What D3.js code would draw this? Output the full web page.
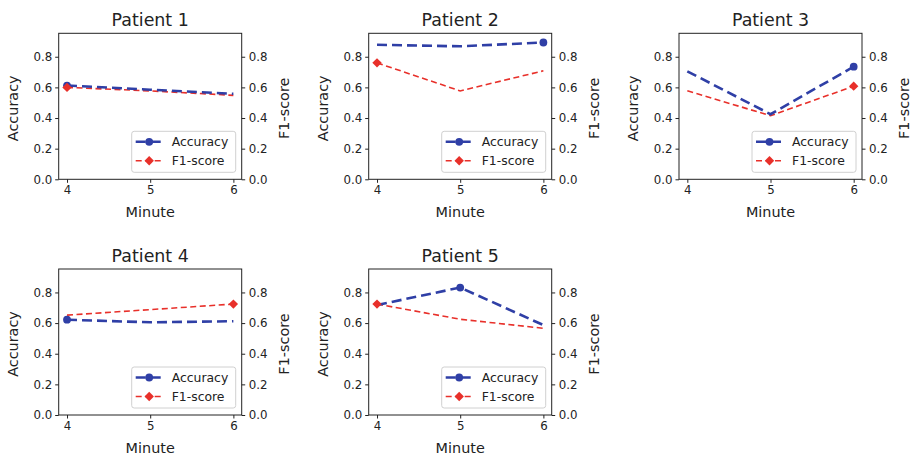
<!DOCTYPE html>
<html>
<head>
    <meta charset="UTF-8">
    <title>Accuracy and F1-score per patient</title>
    <style>
        body { margin: 0; background: #fff; }
        text { font-family: "DejaVu Sans", sans-serif; fill: #222; }
        .tick text { font-size: 11.8px; }
        .title { font-size: 17.4px; text-anchor: middle; }
        .axis-label { font-size: 14.4px; text-anchor: middle; }
        .legend-text { font-size: 12.4px; }
        .domain, .tick line { stroke: #222; }
    </style>
    <script src="https://d3js.org/d3.v7.min.js"></script>
</head>
<body>
<div id="chart"></div>
<script>
    // data
    const patients = ["Patient 1", "Patient 2", "Patient 3", "Patient 4", "Patient 5"];
    const minutes = [4, 5, 6];
    const accuracy = [
        [0.612, 0.585, 0.558],
        [0.878, 0.868, 0.893],
        [0.705, 0.425, 0.735],
        [0.622, 0.605, 0.612],
        [0.718, 0.832, 0.587]
    ];
    const f1score = [
        [0.600, 0.577, 0.548],
        [0.760, 0.577, 0.708],
        [0.578, 0.415, 0.608],
        [0.652, 0.688, 0.724],
        [0.724, 0.625, 0.566]
    ];
    const yTicks = [0, 0.2, 0.4, 0.6, 0.8];

    const colLeft = [58.7, 368.7, 679];
    const rowTop = [33.3, 269];
    const pw = 183, ph = 146;
    const blue = "#2f3fa6", red = "#e8302a";

    const svg = d3.select("#chart").append("svg")
        .attr("width", 912)
        .attr("height", 457);

    const x = d3.scaleLinear().domain([3.9, 6.1]).range([0, pw]);
    const y = d3.scaleLinear().domain([0, 0.953]).range([ph, 0]);

    const line = d3.line().x((d, i) => x(minutes[i])).y(d => y(d));

    patients.forEach((name, p) => {
        const g = svg.append("g")
            .attr("transform", `translate(${colLeft[p % 3]},${rowTop[Math.floor(p / 3)]})`);

        // axes
        g.append("g")
            .attr("transform", `translate(0,${ph})`)
            .call(d3.axisBottom(x).tickValues(minutes).tickFormat(d3.format("d")).tickSize(3.5).tickPadding(3));
        g.append("g")
            .call(d3.axisLeft(y).tickValues(yTicks).tickFormat(d3.format(".1f")).tickSize(3.5).tickPadding(3));
        g.append("g")
            .attr("transform", `translate(${pw},0)`)
            .call(d3.axisRight(y).tickValues(yTicks).tickFormat(d3.format(".1f")).tickSize(3.5).tickPadding(3.5));
        g.selectAll(".domain").remove();
        g.append("rect")
            .attr("width", pw).attr("height", ph)
            .attr("fill", "none").attr("stroke", "#222").attr("stroke-width", 1);

        // lines
        g.append("path")
            .datum(f1score[p])
            .attr("d", line)
            .attr("fill", "none").attr("stroke", red)
            .attr("stroke-width", 1.6).attr("stroke-dasharray", "6,3.5");
        g.append("path")
            .datum(accuracy[p])
            .attr("d", line)
            .attr("fill", "none").attr("stroke", blue)
            .attr("stroke-width", 2.6).attr("stroke-dasharray", "10,5");

        // markers on the best point of each series
        const ai = d3.maxIndex(accuracy[p]);
        const fi = d3.maxIndex(f1score[p]);
        g.append("circle")
            .attr("cx", x(minutes[ai])).attr("cy", y(accuracy[p][ai]))
            .attr("r", 3.9).attr("fill", blue);
        g.append("path")
            .attr("d", d3.symbol(d3.symbolSquare, 44)())
            .attr("transform", `translate(${x(minutes[fi])},${y(f1score[p][fi])}) rotate(45)`)
            .attr("fill", red);

        // texts
        g.append("text").attr("class", "title")
            .attr("x", pw / 2).attr("y", -7).text(name);
        g.append("text").attr("class", "axis-label")
            .attr("x", pw / 2).attr("y", ph + 38).text("Minute");
        g.append("text").attr("class", "axis-label")
            .attr("transform", `translate(-41,${ph / 2 + 2}) rotate(-90)`).text("Accuracy");
        g.append("text").attr("class", "axis-label")
            .attr("transform", `translate(${pw + 47},${ph / 2 + 2}) rotate(-90)`).text("F1-score");

        // legend
        const lg = g.append("g").attr("transform", `translate(${pw - 110},${ph - 48})`);
        lg.append("rect")
            .attr("width", 104).attr("height", 41).attr("rx", 2.5)
            .attr("fill", "#fff").attr("fill-opacity", 0.8)
            .attr("stroke", "#d0d0d0").attr("stroke-width", 1);
        const items = [
            {label: "Accuracy", color: blue, w: 2.6, dash: "10,5", mark: "circle"},
            {label: "F1-score", color: red, w: 1.6, dash: "6,3.5", mark: "diamond"}
        ];
        items.forEach((it, i) => {
            const cy = 10.5 + i * 19;
            lg.append("line")
                .attr("x1", 4).attr("x2", 30).attr("y1", cy).attr("y2", cy)
                .attr("stroke", it.color).attr("stroke-width", it.w)
                .attr("stroke-dasharray", it.dash);
            if (it.mark === "circle") {
                lg.append("circle").attr("cx", 17.5).attr("cy", cy).attr("r", 3.9).attr("fill", it.color);
            } else {
                lg.append("path")
                    .attr("d", d3.symbol(d3.symbolSquare, 44)())
                    .attr("transform", `translate(17.5,${cy}) rotate(45)`)
                    .attr("fill", it.color);
            }
            lg.append("text").attr("class", "legend-text")
                .attr("x", 40).attr("y", cy + 4.4).text(it.label);
        });
    });
</script>
</body>
</html>
